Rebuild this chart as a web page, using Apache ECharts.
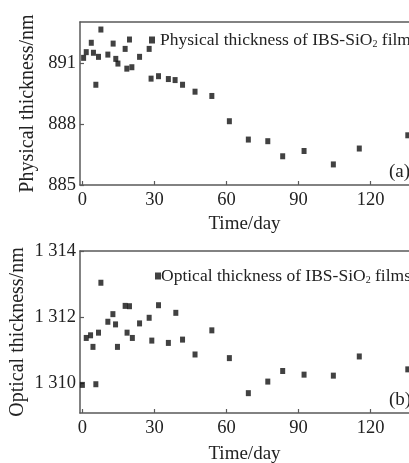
<!DOCTYPE html>
<html>
<head>
<meta charset="utf-8">
<script src="https://cdn.jsdelivr.net/npm/echarts@6/dist/echarts.min.js"></script>
<style>
html,body{margin:0;padding:0;background:#fff;}
#chart{width:409px;height:463px;}
</style>
</head>
<body>
<div id="chart"></div>
<script>
// ---- data ----
var physDays = [0.5, 1.6, 3.7, 4.6, 5.6, 6.7, 7.7, 10.6, 12.8, 13.9, 14.8, 17.8, 18.5, 19.6, 20.6, 23.8, 27.8, 28.6, 31.7, 35.8, 38.6, 41.7, 46.9, 53.9, 61.2, 69.1, 77.2, 83.4, 92.3, 104.5, 115.3, 135.5];
var physVals = [891.24, 891.52, 891.98, 891.49, 889.92, 891.29, 892.63, 891.40, 891.94, 891.19, 890.96, 891.68, 890.71, 892.14, 890.78, 891.29, 891.68, 890.22, 890.34, 890.20, 890.15, 889.92, 889.58, 889.37, 888.13, 887.23, 887.15, 886.41, 886.67, 886.01, 886.79, 887.44];
var optDays = [0.0, 1.6, 3.4, 4.4, 5.6, 6.7, 7.7, 10.6, 12.7, 13.8, 14.6, 17.8, 18.6, 19.6, 20.8, 23.8, 27.8, 28.9, 31.7, 35.8, 38.9, 41.7, 46.9, 53.9, 61.2, 69.1, 77.2, 83.4, 92.3, 104.5, 115.3, 135.5];
var optVals = [1309.95, 1311.37, 1311.45, 1311.10, 1309.97, 1311.53, 1313.04, 1311.86, 1312.09, 1311.78, 1311.10, 1312.34, 1311.53, 1312.33, 1311.37, 1311.81, 1311.98, 1311.29, 1312.36, 1311.22, 1312.13, 1311.32, 1310.87, 1311.60, 1310.76, 1309.70, 1310.05, 1310.37, 1310.26, 1310.23, 1310.81, 1310.42];
var xTicks = [0, 30, 60, 90, 120];
var physTicks = [885, 888, 891];
var optTicks = [1310, 1312, 1314];
var physName = 'Physical thickness of IBS-SiO2 films';
var optName = 'Optical thickness of IBS-SiO2 films';

function zip(a, b) { return a.map(function (v, i) { return [v, b[i]]; }); }
function spaced(v) { return String(v).replace(/(\d)(?=(\d{3})+$)/g, '$1 '); }

var FONT = 'Liberation Serif';
var TXT = '#222';
var AX = '#5a5a5a';

function xAxisMain(gi, nameGap) {
  return {
    type: 'value', gridIndex: gi, min: -1, max: 136,
    name: 'Time/day', nameLocation: 'middle', nameGap: nameGap,
    nameTextStyle: { fontFamily: FONT, fontSize: 19, color: TXT },
    axisLine: { show: true, onZero: false, lineStyle: { color: AX, width: 1.5 } },
    axisTick: { show: true, inside: true, length: 4, customValues: xTicks, lineStyle: { color: AX, width: 1.2 } },
    axisLabel: { customValues: xTicks, fontFamily: FONT, fontSize: 18.5, color: TXT, margin: 6 },
    splitLine: { show: false }
  };
}
function xAxisTop(gi) {
  return {
    type: 'value', gridIndex: gi, min: -1, max: 136, position: 'top',
    axisLine: { show: true, onZero: false, lineStyle: { color: AX, width: 1.5 } },
    axisTick: { show: false }, axisLabel: { show: false }, splitLine: { show: false }
  };
}
function yAxis(gi, min, max, ticks, name, fmt, gap) {
  return {
    type: 'value', gridIndex: gi, min: min, max: max,
    name: name, nameLocation: 'middle', nameGap: gap, nameMoveOverlap: false,
    nameTextStyle: { fontFamily: FONT, fontSize: 20, color: TXT },
    axisLine: { show: true, onZero: false, lineStyle: { color: AX, width: 1.5 } },
    axisTick: { show: true, inside: true, length: 4, customValues: ticks, lineStyle: { color: AX, width: 1.2 } },
    axisLabel: { customValues: ticks, fontFamily: FONT, fontSize: 18.5, color: TXT, margin: 4, formatter: fmt },
    splitLine: { show: false }
  };
}
function legendFmt(n) {
  return n.replace('SiO2', 'SiO{sub|2}');
}
var legendRich = { sub: { fontFamily: FONT, fontSize: 10, color: TXT, verticalAlign: 'bottom', padding: [8, 0, 0, 0] } };

var chart = echarts.init(document.getElementById('chart'), null, { renderer: 'canvas' });
chart.setOption({
  backgroundColor: '#ffffff',
  animation: false,
  grid: [
    { left: 80, top: 22, right: 0, height: 163, outerBoundsMode: 'none', containLabel: false },
    { left: 80, top: 251, right: 0, height: 162, outerBoundsMode: 'none', containLabel: false }
  ],
  xAxis: [xAxisMain(0, 30), xAxisMain(1, 32), xAxisTop(0), xAxisTop(1)],
  yAxis: [
    yAxis(0, 885, 893, physTicks, 'Physical thickness/nm', function (v) { return String(v); }, 42),
    yAxis(1, 1309.1, 1314, optTicks, 'Optical thickness/nm', spaced, 52)
  ],
  legend: [
    { data: [physName], left: 144, top: 26, itemWidth: 6, itemHeight: 7, icon: 'rect',
      formatter: legendFmt, textStyle: { fontFamily: FONT, fontSize: 17.5, color: TXT, rich: legendRich } },
    { data: [optName], left: 150, top: 262, itemWidth: 6, itemHeight: 7, icon: 'rect',
      formatter: legendFmt, textStyle: { fontFamily: FONT, fontSize: 17.5, color: TXT, padding: [0, 0, 0, -5], rich: legendRich } }
  ],
  graphic: [
    { type: 'text', left: 389, top: 163, style: { text: '(a)', fontFamily: FONT, fontSize: 19, fill: TXT } },
    { type: 'text', left: 389, top: 391, style: { text: '(b)', fontFamily: FONT, fontSize: 19, fill: TXT } }
  ],
  series: [
    { name: physName, type: 'scatter', xAxisIndex: 0, yAxisIndex: 0, symbol: 'rect', symbolSize: [5, 6],
      itemStyle: { color: '#111' }, data: zip(physDays, physVals) },
    { name: optName, type: 'scatter', xAxisIndex: 1, yAxisIndex: 1, symbol: 'rect', symbolSize: [5, 6],
      itemStyle: { color: '#111' }, data: zip(optDays, optVals) }
  ]
});
</script>
</body>
</html>
